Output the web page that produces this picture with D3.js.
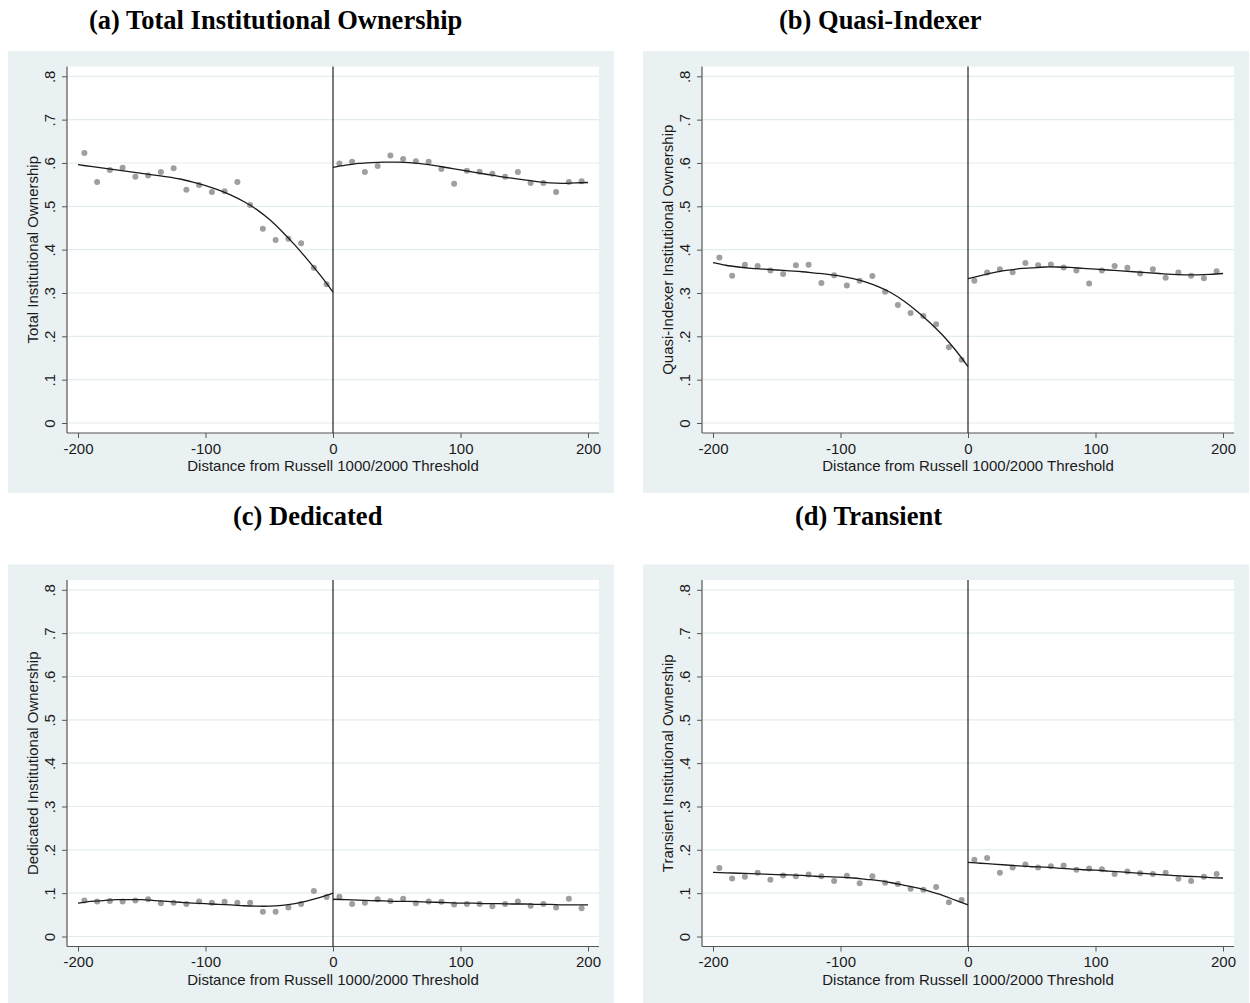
<!DOCTYPE html>
<html>
<head>
<meta charset="utf-8">
<script src="https://cdn.jsdelivr.net/npm/d3@7"></script>
<style>
  html, body { margin: 0; padding: 0; background: #ffffff; }
  svg { display: block; }
</style>
</head>
<body>
<svg id="chart" width="1250" height="1003"></svg>
<script>
// ---- Axis ticks ----
const xTicks = [-200, -100, 0, 100, 200];
const xTickLabels = ["-200", "-100", "0", "100", "200"];
const yTicks = [0, 0.1, 0.2, 0.3, 0.4, 0.5, 0.6, 0.7, 0.8];
const yTickLabels = ["0", ".1", ".2", ".3", ".4", ".5", ".6", ".7", ".8"];
const xAxisTitle = "Distance from Russell 1000/2000 Threshold";

// ---- Bin centres (distance from threshold) ----
const binsLeft = [-195, -185, -175, -165, -155, -145, -135, -125, -115, -105,
                  -95, -85, -75, -65, -55, -45, -35, -25, -15, -5];
const binsRight = [5, 15, 25, 35, 45, 55, 65, 75, 85, 95,
                   105, 115, 125, 135, 145, 155, 165, 175, 185, 195];

// ---- Grid of the fitted curves ----
const fitLeftX = [-200, -190, -180, -170, -160, -150, -140, -130, -120, -110,
                  -100, -90, -80, -70, -60, -50, -40, -30, -20, -10, 0];
const fitRightX = [0, 10, 20, 30, 40, 50, 60, 70, 80, 90,
                   100, 110, 120, 130, 140, 150, 160, 170, 180, 190, 200];

// ---- (a) Total institutional ownership ----
const totalLeft = [0.623, 0.556, 0.584, 0.589, 0.568, 0.571, 0.579, 0.588, 0.538, 0.549,
                   0.533, 0.535, 0.556, 0.503, 0.448, 0.422, 0.425, 0.415, 0.358, 0.320];
const totalRight = [0.599, 0.603, 0.579, 0.593, 0.617, 0.609, 0.604, 0.603, 0.586, 0.552,
                    0.582, 0.580, 0.575, 0.568, 0.579, 0.554, 0.554, 0.533, 0.556, 0.558];
const totalFitLeft = [0.596, 0.592, 0.588, 0.584, 0.580, 0.576, 0.572, 0.568, 0.563, 0.556,
                      0.548, 0.538, 0.526, 0.511, 0.493, 0.470, 0.442, 0.411, 0.377, 0.341, 0.302];
const totalFitRight = [0.590, 0.595, 0.599, 0.601, 0.602, 0.602, 0.601, 0.598, 0.594, 0.589,
                       0.584, 0.579, 0.574, 0.569, 0.565, 0.561, 0.557, 0.554, 0.553, 0.554, 0.555];

// ---- (b) Quasi-indexer ----
const quasiLeft = [0.382, 0.340, 0.365, 0.362, 0.352, 0.344, 0.364, 0.365, 0.323, 0.341,
                   0.317, 0.328, 0.339, 0.303, 0.272, 0.254, 0.247, 0.228, 0.175, 0.146];
const quasiRight = [0.328, 0.347, 0.355, 0.348, 0.369, 0.364, 0.366, 0.359, 0.352, 0.322,
                    0.352, 0.362, 0.358, 0.345, 0.355, 0.335, 0.347, 0.340, 0.334, 0.350];
const quasiFitLeft = [0.370, 0.364, 0.360, 0.357, 0.355, 0.353, 0.351, 0.349, 0.346, 0.343,
                      0.339, 0.333, 0.325, 0.314, 0.300, 0.281, 0.258, 0.232, 0.203, 0.169, 0.130];
const quasiFitRight = [0.333, 0.340, 0.347, 0.352, 0.356, 0.358, 0.360, 0.360, 0.359, 0.357,
                       0.355, 0.353, 0.351, 0.349, 0.347, 0.345, 0.343, 0.342, 0.342, 0.343, 0.345];

// ---- (c) Dedicated ----
const dedLeft = [0.083, 0.081, 0.082, 0.081, 0.083, 0.086, 0.077, 0.078, 0.075, 0.081,
                 0.078, 0.080, 0.078, 0.078, 0.057, 0.057, 0.067, 0.075, 0.105, 0.091];
const dedRight = [0.092, 0.075, 0.078, 0.086, 0.082, 0.087, 0.077, 0.081, 0.080, 0.074,
                  0.075, 0.075, 0.070, 0.075, 0.081, 0.071, 0.075, 0.067, 0.087, 0.065];
const dedFitLeft = [0.077, 0.081, 0.083, 0.085, 0.085, 0.085, 0.083, 0.081, 0.079, 0.077,
                    0.076, 0.074, 0.073, 0.071, 0.070, 0.070, 0.072, 0.076, 0.082, 0.090, 0.100];
const dedFitRight = [0.086, 0.085, 0.084, 0.083, 0.082, 0.081, 0.081, 0.080, 0.079, 0.078,
                     0.077, 0.077, 0.076, 0.076, 0.075, 0.075, 0.074, 0.074, 0.073, 0.073, 0.073];

// ---- (d) Transient ----
const tranLeft = [0.158, 0.134, 0.138, 0.147, 0.131, 0.141, 0.139, 0.143, 0.139, 0.128,
                  0.140, 0.123, 0.139, 0.124, 0.121, 0.110, 0.108, 0.114, 0.079, 0.084];
const tranRight = [0.177, 0.181, 0.147, 0.159, 0.166, 0.159, 0.162, 0.164, 0.154, 0.157,
                   0.155, 0.144, 0.150, 0.146, 0.144, 0.147, 0.133, 0.128, 0.138, 0.144];
const tranFitLeft = [0.148, 0.147, 0.146, 0.145, 0.144, 0.143, 0.142, 0.141, 0.139, 0.138,
                     0.137, 0.135, 0.132, 0.129, 0.124, 0.118, 0.112, 0.104, 0.095, 0.084, 0.073];
const tranFitRight = [0.171, 0.169, 0.167, 0.165, 0.163, 0.161, 0.160, 0.158, 0.156, 0.154,
                      0.153, 0.151, 0.149, 0.147, 0.145, 0.143, 0.141, 0.139, 0.138, 0.136, 0.135];

// ---- Panel titles and y-axis titles ----
const panelTitles = ["(a) Total Institutional Ownership", "(b) Quasi-Indexer", "(c) Dedicated", "(d) Transient"];
const yAxisTitles = ["Total Institutional Ownership", "Quasi-Indexer Institutional Ownership",
                     "Dedicated Institutional Ownership", "Transient Institutional Ownership"];

const panels = [
  { title: panelTitles[0], ylab: yAxisTitles[0], left: totalLeft, right: totalRight, fitL: totalFitLeft, fitR: totalFitRight,
    dx: 0, dy: 0, titleX: 89, titleY: 29 },
  { title: panelTitles[1], ylab: yAxisTitles[1], left: quasiLeft, right: quasiRight, fitL: quasiFitLeft, fitR: quasiFitRight,
    dx: 635, dy: 0, titleX: 779, titleY: 29 },
  { title: panelTitles[2], ylab: yAxisTitles[2], left: dedLeft, right: dedRight, fitL: dedFitLeft, fitR: dedFitRight,
    dx: 0, dy: 513.5, titleX: 233, titleY: 525 },
  { title: panelTitles[3], ylab: yAxisTitles[3], left: tranLeft, right: tranRight, fitL: tranFitLeft, fitR: tranFitRight,
    dx: 635, dy: 513.5, titleX: 795, titleY: 525 }
];

const svg = d3.select("#chart");
const BG = "#eaf1f3";
const GRID = "#e3ecee";
const SANS = "'Liberation Sans', Arial, sans-serif";
const SERIF = "'Liberation Serif', 'Times New Roman', serif";

// Layout of one panel (coordinates of the top-left panel)
const bgBox = { x: 8, y: 51, w: 606, h: 442 };
const plotBox = { x0: 67, x1: 599, y0: 66.5, y1: 433 };
const x = d3.scaleLinear().domain([-200, 200]).range([78, 588]);
const y = d3.scaleLinear().domain([0, 0.8]).range([423, 76.3]);

const line = d3.line()
  .x(d => x(d[0]))
  .y(d => y(d[1]))
  .curve(d3.curveCatmullRom.alpha(0.5));

panels.forEach(p => {
  // Title sits above the panel
  svg.append("text")
    .attr("x", p.titleX).attr("y", p.titleY)
    .attr("font-family", SERIF).attr("font-weight", "bold")
    .attr("font-size", 26.5).attr("fill", "#000")
    .text(p.title);

  const g = svg.append("g").attr("transform", `translate(${p.dx},${p.dy})`);

  // Graph region background
  g.append("rect")
    .attr("x", bgBox.x).attr("y", bgBox.y)
    .attr("width", bgBox.w).attr("height", bgBox.h)
    .attr("fill", BG);

  // Plot region
  g.append("rect")
    .attr("x", plotBox.x0).attr("y", plotBox.y0)
    .attr("width", plotBox.x1 - plotBox.x0).attr("height", plotBox.y1 - plotBox.y0)
    .attr("fill", "#ffffff");

  // Horizontal grid lines
  g.append("g").selectAll("line").data(yTicks).join("line")
    .attr("x1", plotBox.x0 + 1).attr("x2", plotBox.x1)
    .attr("y1", d => y(d)).attr("y2", d => y(d))
    .attr("stroke", GRID).attr("stroke-width", 1.2);

  // Y axis
  const yAxis = d3.axisLeft(y).tickValues(yTicks).tickSize(5).tickPadding(0)
    .tickFormat((d, i) => yTickLabels[i]);
  const ya = g.append("g").attr("transform", `translate(${plotBox.x0},0)`).call(yAxis);
  ya.select(".domain").attr("d", `M0,${plotBox.y0}V${plotBox.y1}`).attr("stroke", "#555").attr("stroke-width", 1.2);
  ya.selectAll(".tick line").attr("stroke", "#555").attr("stroke-width", 1);
  ya.selectAll(".tick text")
    .attr("x", null).attr("dy", null)
    .attr("transform", "translate(-17,0) rotate(-90)")
    .attr("text-anchor", "middle")
    .attr("dy", "0.36em")
    .attr("font-family", SANS).attr("font-size", 15).attr("fill", "#1a1a1a");

  // X axis
  const xAxis = d3.axisBottom(x).tickValues(xTicks).tickSize(5).tickPadding(5)
    .tickFormat((d, i) => xTickLabels[i]);
  const xa = g.append("g").attr("transform", `translate(0,${plotBox.y1})`).call(xAxis);
  xa.select(".domain").attr("d", `M${plotBox.x0},0H${plotBox.x1}`).attr("stroke", "#555").attr("stroke-width", 1.2);
  xa.selectAll(".tick line").attr("stroke", "#555").attr("stroke-width", 1);
  xa.selectAll(".tick text")
    .attr("font-family", SANS).attr("font-size", 15).attr("fill", "#1a1a1a");

  // Axis titles
  g.append("text")
    .attr("x", x(0)).attr("y", 471)
    .attr("text-anchor", "middle")
    .attr("font-family", SANS).attr("font-size", 15).attr("fill", "#1a1a1a")
    .text(xAxisTitle);
  g.append("text")
    .attr("transform", `translate(33,${(plotBox.y0 + plotBox.y1) / 2}) rotate(-90)`)
    .attr("text-anchor", "middle").attr("dy", "0.36em")
    .attr("font-family", SANS).attr("font-size", 15).attr("fill", "#1a1a1a")
    .text(p.ylab);

  // Threshold line
  g.append("line")
    .attr("x1", x(0)).attr("x2", x(0))
    .attr("y1", plotBox.y0).attr("y2", plotBox.y1)
    .attr("stroke", "#222").attr("stroke-width", 1.2);

  // Binned means
  const pts = binsLeft.map((b, i) => [b, p.left[i]])
    .concat(binsRight.map((b, i) => [b, p.right[i]]));
  g.append("g").selectAll("circle").data(pts).join("circle")
    .attr("cx", d => x(d[0])).attr("cy", d => y(d[1]))
    .attr("r", 3).attr("fill", "#9f9f9f");

  // Fitted curves on each side of the threshold
  g.append("path")
    .datum(fitLeftX.map((v, i) => [v, p.fitL[i]]))
    .attr("d", line).attr("fill", "none")
    .attr("stroke", "#1a1a1a").attr("stroke-width", 1.3);
  g.append("path")
    .datum(fitRightX.map((v, i) => [v, p.fitR[i]]))
    .attr("d", line).attr("fill", "none")
    .attr("stroke", "#1a1a1a").attr("stroke-width", 1.3);
});
</script>
</body>
</html>
